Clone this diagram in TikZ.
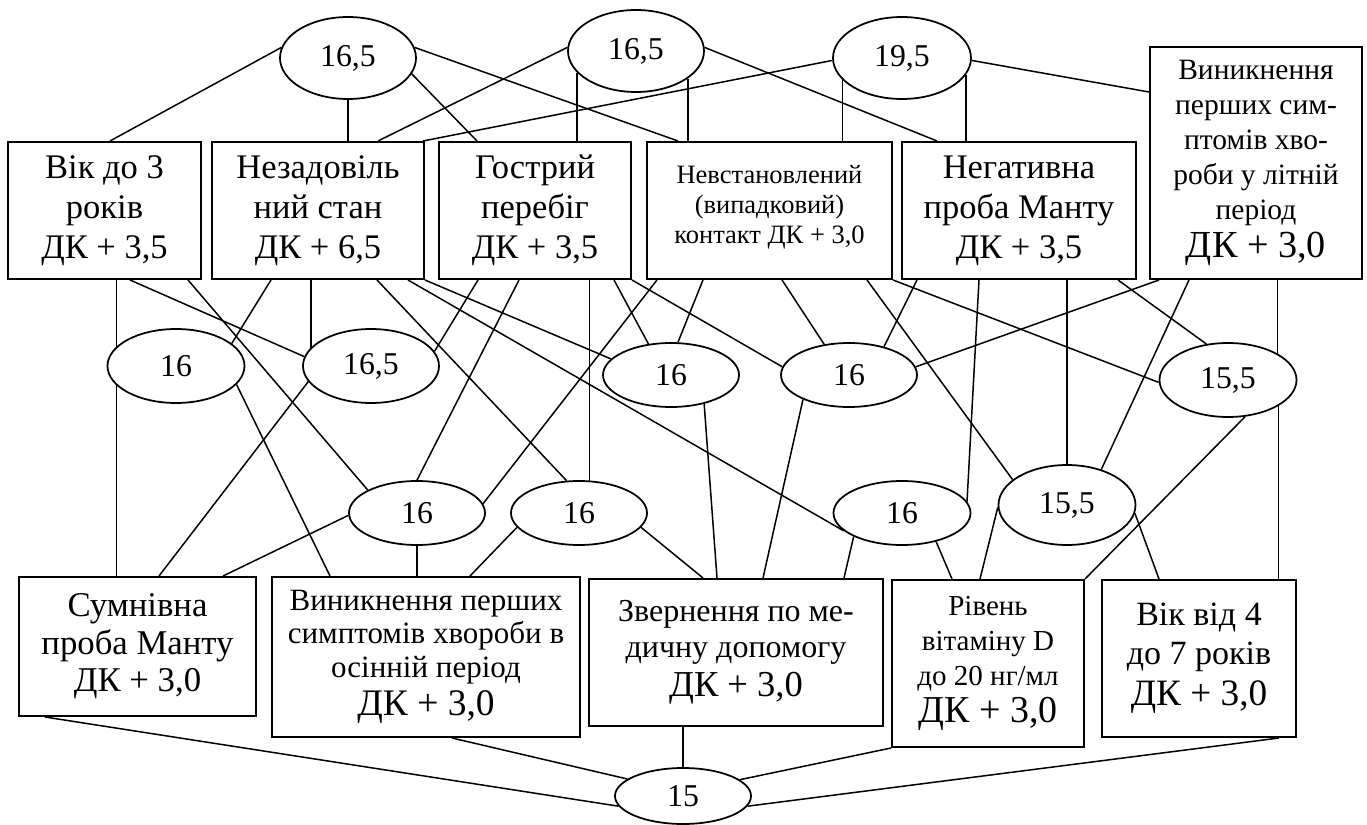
\documentclass[tikz,border=0pt]{standalone}
\usepackage{fontspec}
\setmainfont{Liberation Serif}
\usetikzlibrary{shapes.geometric}

\begin{document}
\begin{tikzpicture}[x=0.4pt,y=-0.4pt,line width=0.6pt]
\tikzstyle{box}=[draw,rectangle,align=center,inner sep=1pt,line width=0.8pt]
\tikzstyle{oval}=[draw,ellipse,inner sep=0pt,minimum width=54.4pt,line width=0.7pt,font=\fontsize{12.7}{15}\selectfont]
\tikzstyle{big}=[font=\fontsize{13.8}{16}\selectfont]
\useasboundingbox (0,0) rectangle (1367,825);

% top ovals
\node [oval, minimum height=32.8pt] (e1) at (348,58) {16,5};
\node [oval, minimum height=32.8pt] (e2) at (636,51) {16,5};
\node [oval, minimum height=32.8pt, minimum width=55.2pt] (e3) at (902,58) {19,5};

% upper row of factors
\node [box, big, minimum width=77.2pt, minimum height=54.8pt] (b1) at (104.5,210.5) {Вік до 3\\ років\\ ДК + 3,5};
\node [box, big, minimum width=84.8pt, minimum height=54.8pt] (b2) at (318,210.5) {Незадовіль\\ ний стан\\ ДК + 6,5};
\node [box, big, minimum width=76.8pt, minimum height=54.8pt] (b3) at (535,210.5) {Гострий\\ перебіг\\ ДК + 3,5};
\node [box, minimum width=98pt, minimum height=54.8pt, font=\fontsize{10.6}{12}\selectfont] (b4) at (769.5,210.5) {Невстановлений\\ (випадковий)\\ контакт ДК + 3,0\\[-7pt]\mbox{}};
\node [box, big, minimum width=93.6pt, minimum height=54.8pt] (b5) at (1019,210.5) {Негативна\\ проба Манту\\ ДК + 3,5};
\node [box, minimum width=84.8pt, minimum height=92.8pt, font=\fontsize{11.8}{14}\selectfont] (b6) at (1256,163) {Виникнення\\ перших сим-\\ птомів хво-\\ роби у літній\\ період\\[1pt] {\fontsize{15.3}{17}\selectfont ДК + 3,0}};

% middle ovals
\node [oval, minimum height=29.6pt, minimum width=54.8pt] (m1) at (176,366) {16};
\node [oval, minimum height=29.6pt] (m2) at (371,366) {16,5};
\node [oval, minimum height=25.6pt] (m3) at (671,375) {16};
\node [oval, minimum height=25.6pt] (m4) at (849,375) {16};
\node [oval, minimum height=29.6pt, minimum width=54.8pt] (m5) at (1228,380) {15,5};

\node [oval, minimum height=25.6pt] (l1) at (417,513) {16};
\node [oval, minimum height=25.6pt] (l2) at (579,513) {16};
\node [oval, minimum height=25.6pt, minimum width=54.8pt] (l3) at (902,513) {16};
\node [oval, minimum height=32pt, minimum width=54.8pt] (l4) at (1067,505) {15,5};

% lower row of factors
\node [box, minimum width=94.8pt, minimum height=55.6pt, font=\fontsize{13.9}{15}\selectfont] (c1) at (137.5,646.5) {Сумнівна\\ проба Манту\\ ДК + 3,0};
\node [box, minimum width=123.2pt, minimum height=64pt, font=\fontsize{12.4}{13.4}\selectfont] (c2) at (426,657) {Виникнення перших\\ симптомів хвороби в\\ осінній період\\[2pt] {\fontsize{15}{17}\selectfont ДК + 3,0}};
\node [box, minimum width=117.6pt, minimum height=58.8pt, font=\fontsize{12.8}{14.6}\selectfont] (c3) at (736,652.5) {Звернення по ме-\\ дичну допомогу\\[1pt] {\fontsize{14.6}{16}\selectfont ДК + 3,0}};
\node [box, minimum width=76.8pt, minimum height=66.8pt, font=\fontsize{11.6}{14}\selectfont] (c4) at (988,663.5) {Рівень\\ вітаміну D\\ до 20 нг/мл\\[1pt] {\fontsize{15.2}{17}\selectfont ДК + 3,0}};
\node [box, minimum width=77.6pt, minimum height=62.8pt, font=\fontsize{13.6}{15.5}\selectfont] (c5) at (1199,658.5) {Вік від 4\\ до 7 років\\[1pt] {\fontsize{14.9}{16}\selectfont ДК + 3,0}};

% final oval
\node [oval, minimum height=22.4pt] (e15) at (683,796) {15};

% top ovals to upper factors
\draw (e1.171) -- (b1.north -| 110,0);
\draw (e1.south) -- (b2.north -| e1.south);
\draw (e1.-14) -- (b3.north -| 477,0);
\draw (e1.9) -- (b4.north -| 678,0);
\draw (e2.177) -- (b2.north -| 378,0);
\draw (e2.200) -- (b3.north -| e2.200);
\draw (e2.-28) -- (b4.north -| e2.-28);
\draw (e2.3) -- (b5.north -| 937,0);
\draw (e3.182) -- (b2.north -| 423,0);
\draw (e3.200) -- (b4.north -| e3.200);
\draw (e3.-15) -- (b5.north -| e3.-15);
\draw (e3.-2) -- (b6.west |- 0,92);

% upper factors to middle ovals
\draw (b1.south -| m1.162) -- (m1.162);
\draw (b1.south -| 130,0) -- (m2.172);
\draw (b1.south -| 188,0) -- (l1.155);
\draw (b2.south -| 271,0) -- (m1.22);
\draw (b2.south -| m2.163) -- (m2.163);
\draw (b2.south -| 377,0) -- (l2.111);
\draw (b2.south -| 408,0) -- (l3.197);
\draw (b2.south east) -- (m3.165);
\draw (b3.south -| 478,0) -- (m2.13);
\draw (b3.south -| 519,0) -- (l1.north);
\draw (b3.south -| l2.72) -- (l2.72);
\draw (b3.south -| 614,0) -- (m3.126);
\draw (b3.south east) -- (m4.173);
\draw (b4.south -| 657,0) -- (l1.8);
\draw (b4.south -| 703,0) -- (m3.78);
\draw (b4.south -| 782,0) -- (m4.129);
\draw (b4.south -| 867,0) -- (l4.155);
\draw (b4.south east) -- (m5.182);
\draw (b5.south -| 917,0) -- (m4.39);
\draw (b5.south -| 979,0) -- (l3.10);
\draw (b5.south -| l4.north) -- (l4.north);
\draw (b5.south -| 1118,0) -- (m5.121);
\draw (b6.south -| 1159,0) -- (m4.7);
\draw (b6.south -| 1189,0) -- (l4.46);
\draw (b6.south -| m5.28) -- (m5.28);

% middle ovals to lower factors
\draw (m1.198) -- (c1.north -| m1.198);
\draw (m1.-17) -- (c2.north -| 330,0);
\draw (m2.194) -- (c1.north -| 159,0);
\draw (l1.182) -- (c1.north -| 223,0);
\draw (l1.south) -- (c2.north -| l1.south);
\draw (l2.193) -- (c2.north -| 470,0);
\draw (l2.-13) -- (c3.north -| 703,0);
\draw (m3.-41) -- (c3.north -| 717,0);
\draw (m4.208) -- (c3.north -| 763,0);
\draw (l3.206) -- (c3.north -| 844,0);
\draw (l3.-40) -- (c4.north -| 952,0);
\draw (l4.182) -- (c4.north -| 980,0);
\draw (m5.-65) -- (c4.north east);
\draw (l4.-7) -- (c5.north -| 1159,0);
\draw (m5.-27) -- (c5.north -| m5.-27);

% lower factors to the final oval
\draw (c1.south -| 45,0) -- (e15.189);
\draw (c2.south -| 452,0) -- (e15.163);
\draw (c3.south -| e15.north) -- (e15.north);
\draw (c4.south west) -- (e15.16);
\draw (c5.south -| 1279,0) -- (e15.-9);
\end{tikzpicture}
\end{document}
